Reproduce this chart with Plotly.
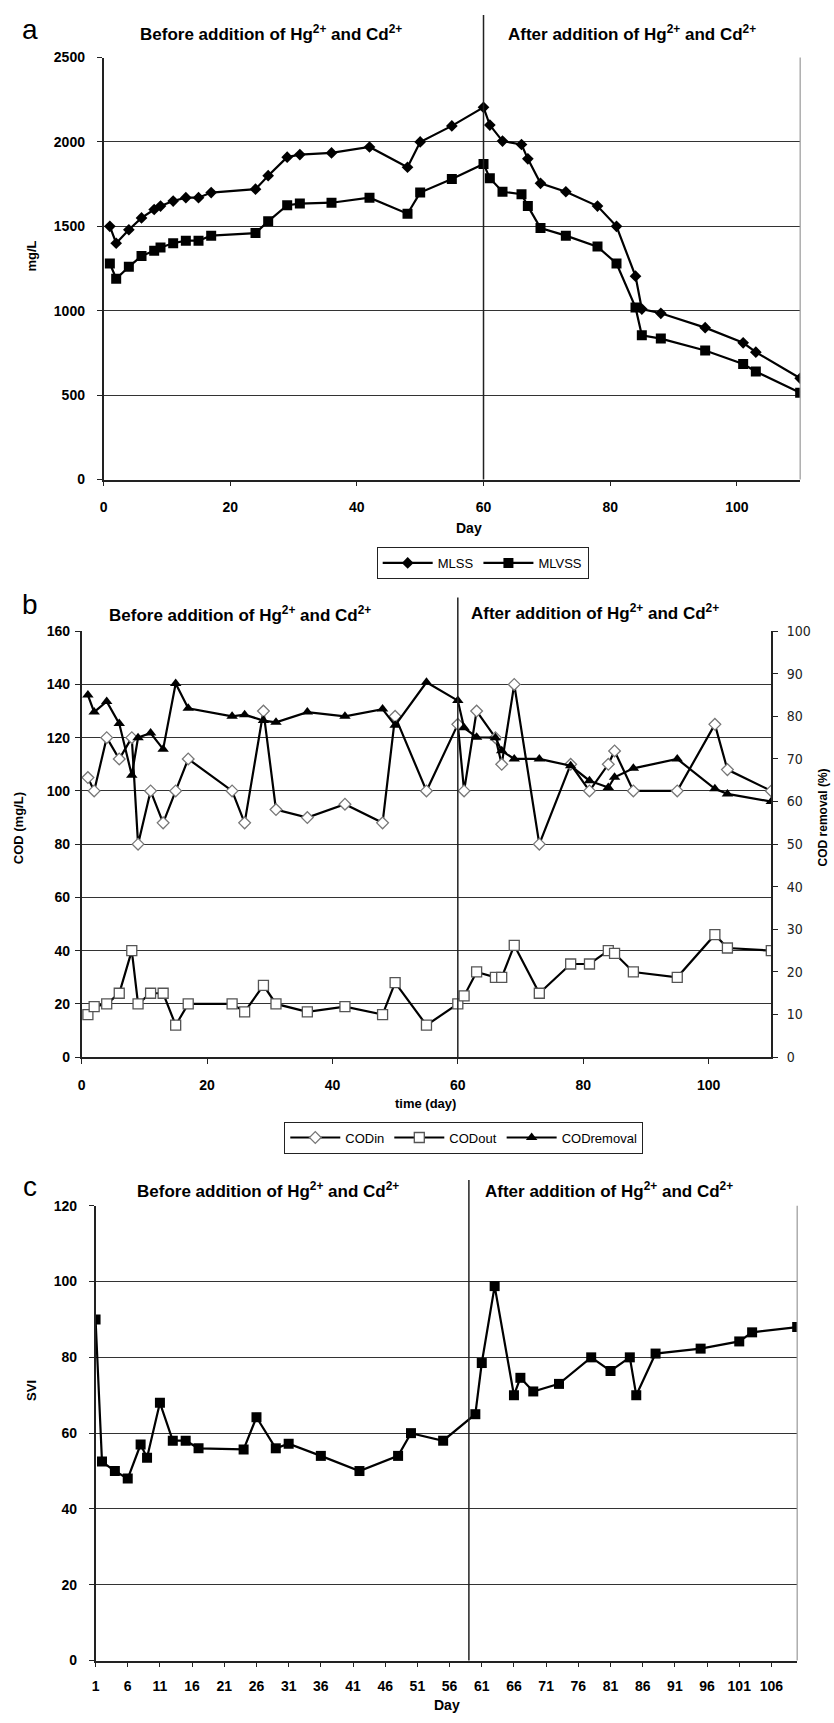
import plotly.graph_objects as go

# ---------------- data ----------------
days = [1, 2, 4, 6, 8, 9, 11, 13, 15, 17, 24, 26, 29, 31, 36, 42, 48, 50, 55, 60,
        61, 63, 66, 67, 69, 73, 78, 81, 84, 85, 88, 95, 101, 103, 110]

mlss = [1500, 1400, 1480, 1550, 1600, 1620, 1650, 1670, 1670, 1700, 1720, 1800, 1910, 1925,
        1935, 1970, 1850, 2000, 2095, 2205, 2100, 2005, 1985, 1900, 1755, 1705, 1620, 1500,
        1205, 1010, 985, 900, 810, 755, 600]
mlvss = [1280, 1190, 1260, 1325, 1355, 1375, 1400, 1415, 1415, 1445, 1460, 1530, 1625, 1635,
         1640, 1670, 1575, 1700, 1780, 1870, 1785, 1705, 1690, 1620, 1490, 1445, 1380, 1280,
         1020, 855, 835, 765, 685, 640, 515]

cod_in = [105, 100, 120, 112, 120, 80, 100, 88, 100, 112, 100, 88, 130, 93, 90, 95, 88, 128,
          100, 125, 100, 130, 120, 110, 140, 80, 110, 100, 110, 115, 100, 100, 125, 108, 100]
cod_out = [16, 19, 20, 24, 40, 20, 24, 24, 12, 20, 20, 17, 27, 20, 17, 19, 16, 28, 12, 20,
           23, 32, 30, 30, 42, 24, 35, 35, 40, 39, 32, 30, 46, 41, 40]
cod_removal = [85, 81, 83.5, 78.3, 66.2, 75, 76.1, 72.3, 87.7, 81.9, 80, 80.4, 79, 78.6, 81,
               80, 81.7, 77.9, 88, 83.7, 77.3, 75.1, 75, 71.9, 70, 70, 68.4, 64.9, 63.3, 65.7,
               67.8, 70, 63, 61.8, 60]

svi = [90, 52.5, 50, 48, 57, 53.5, 68, 58, 58, 56, 55.7, 64.2, 56, 57.2, 54, 50, 54, 60, 58,
       65, 78.5, 98.8, 70, 74.6, 71, 73, 80, 76.4, 80, 70, 81, 82.3, 84.2, 86.6, 88]

svi_ticks = [1, 6, 11, 16, 21, 26, 31, 36, 41, 46, 51, 56, 61, 66, 71, 76, 81, 86, 91, 96, 101, 106]

# ---------------- layout helpers ----------------
W, H = 834, 1723
FONT = "Liberation Sans, Arial, sans-serif"


def px(x):
    return x / W


def py(y):
    return 1 - y / H


fig = go.Figure()

LW = 2.2
# Panel a
fig.add_trace(go.Scatter(x=days, y=mlss, name="MLSS", mode="lines+markers",
                         line=dict(color="black", width=LW),
                         marker=dict(symbol="diamond", size=9, color="black"),
                         xaxis="x", yaxis="y", legend="legend"))
fig.add_trace(go.Scatter(x=days, y=mlvss, name="MLVSS", mode="lines+markers",
                         line=dict(color="black", width=LW),
                         marker=dict(symbol="square", size=10, color="black"),
                         xaxis="x", yaxis="y", legend="legend"))
# Panel b
fig.add_trace(go.Scatter(x=days, y=cod_in, name="CODin", mode="lines+markers",
                         line=dict(color="black", width=LW),
                         marker=dict(symbol="diamond", size=9, color="white",
                                     line=dict(color="#777", width=1.3)),
                         xaxis="x2", yaxis="y2", legend="legend2"))
fig.add_trace(go.Scatter(x=days, y=cod_out, name="CODout", mode="lines+markers",
                         line=dict(color="black", width=LW),
                         marker=dict(symbol="square", size=10, color="white",
                                     line=dict(color="#555", width=1.3)),
                         xaxis="x2", yaxis="y2", legend="legend2"))
fig.add_trace(go.Scatter(x=days, y=cod_removal, name="CODremoval", mode="lines+markers",
                         line=dict(color="black", width=LW),
                         marker=dict(symbol="triangle-up", size=10, color="black"),
                         xaxis="x2", yaxis="y3", legend="legend2"))
# Panel c
fig.add_trace(go.Scatter(x=days, y=svi, name="SVI", mode="lines+markers",
                         line=dict(color="black", width=LW),
                         marker=dict(symbol="square", size=10, color="black"),
                         xaxis="x3", yaxis="y4", showlegend=False))

tickfont_b = dict(family=FONT, size=14, color="black", weight="bold")
axis_common = dict(showline=True, linecolor="#222", linewidth=1.5, ticks="outside",
                   ticklen=5, tickcolor="#222", zeroline=False, tickfont=tickfont_b)

fig.update_layout(
    width=W, height=H, margin=dict(l=0, r=0, t=0, b=0),
    paper_bgcolor="white", plot_bgcolor="white",
    font=dict(family=FONT, color="black"),
    xaxis=dict(domain=[px(100), px(800)], anchor="y", range=[0, 110], dtick=20,
               showgrid=False, ticklabelstandoff=9, **axis_common),
    yaxis=dict(domain=[py(476), py(50)], anchor="x", range=[0, 2500], dtick=500,
               showgrid=True, gridcolor="#333", gridwidth=1, ticklabelstandoff=9,
               **axis_common),
    xaxis2=dict(domain=[px(78), px(771)], anchor="y2", range=[0, 110], dtick=20,
                showgrid=False, ticklabelstandoff=9, **axis_common),
    yaxis2=dict(domain=[py(1059), py(629)], anchor="x2", range=[0, 160], dtick=20,
                showgrid=True, gridcolor="#333", gridwidth=1, ticklabelstandoff=2,
                **axis_common),
    yaxis3=dict(overlaying="y2", side="right", anchor="x2", range=[0, 100], dtick=10,
                showgrid=False, showline=True, linecolor="#222", linewidth=1.5,
                ticks="outside", ticklen=5, tickcolor="#222", zeroline=False,
                ticklabelstandoff=6,
                tickfont=dict(family="DejaVu Sans Condensed, Liberation Sans Narrow, sans-serif",
                              size=14, color="#222")),
    xaxis3=dict(domain=[px(92), px(797)], anchor="y4", range=[1, 110], tickvals=svi_ticks,
                showgrid=False, ticklabelstandoff=7, **axis_common),
    yaxis4=dict(domain=[py(1668), py(1209)], anchor="x3", range=[0, 120], dtick=20,
                showgrid=True, gridcolor="#333", gridwidth=1, ticklabelstandoff=9,
                **axis_common),
    legend=dict(orientation="h", x=px(481), xanchor="center", y=py(544), yanchor="top",
                bordercolor="#222", borderwidth=1, font=dict(family=FONT, size=13),
                itemwidth=50, tracegroupgap=0),
    legend2=dict(orientation="h", x=px(462), xanchor="center", y=py(1124), yanchor="top",
                 bordercolor="#222", borderwidth=1, font=dict(family=FONT, size=13),
                 itemwidth=50, tracegroupgap=0),
    showlegend=True,
)

hdr_before = "Before addition of Hg<sup>2+</sup> and Cd<sup>2+</sup>"
hdr_after = "After addition of Hg<sup>2+</sup> and Cd<sup>2+</sup>"
hfont = dict(family=FONT, size=17, color="black", weight="bold")
lblfont = dict(family=FONT, size=28, color="black")
tfont = dict(family=FONT, size=13, color="black", weight="bold")

annotations = [
    # panel labels
    dict(text="a", x=px(26), y=py(22), font=lblfont),
    dict(text="b", x=px(26), y=py(602), font=lblfont),
    dict(text="c", x=px(26), y=py(1190), font=lblfont),
    # headers
    dict(text=hdr_before, x=px(268), y=py(25), font=hfont),
    dict(text=hdr_after, x=px(631), y=py(25), font=hfont),
    dict(text=hdr_before, x=px(237), y=py(612), font=hfont),
    dict(text=hdr_after, x=px(594), y=py(610), font=hfont),
    dict(text=hdr_before, x=px(265), y=py(1193), font=hfont),
    dict(text=hdr_after, x=px(608), y=py(1193), font=hfont),
    # axis titles
    dict(text="mg/L", x=px(28), y=py(250), textangle=-90, font=tfont),
    dict(text="Day", x=px(467), y=py(525), font=dict(family=FONT, size=14, weight="bold")),
    dict(text="COD (mg/L)", x=px(14), y=py(828), textangle=-90, font=tfont),
    dict(text="COD removal (%)", x=px(823), y=py(817), textangle=-90,
         font=dict(family=FONT, size=12, color="black", weight="bold")),
    dict(text="time (day)", x=px(424), y=py(1106), font=tfont),
    dict(text="SVI", x=px(27), y=py(1395), textangle=-90, font=tfont),
    dict(text="Day", x=px(445), y=py(1713), font=dict(family=FONT, size=14, weight="bold")),
]
for a in annotations:
    a.update(xref="paper", yref="paper", showarrow=False, xanchor="center", yanchor="middle")
fig.update_layout(annotations=annotations)

# vertical separators and right borders
shapes = [
    dict(type="line", xref="x", yref="paper", x0=60, x1=60, y0=py(476), y1=py(7),
         line=dict(color="#222", width=1.5)),
    dict(type="line", xref="x2", yref="paper", x0=60, x1=60, y0=py(1059), y1=py(595),
         line=dict(color="#222", width=1.5)),
    dict(type="line", xref="x3", yref="paper", x0=59, x1=59, y0=py(1668), y1=py(1183),
         line=dict(color="#222", width=1.5)),
    dict(type="line", xref="paper", yref="paper", x0=px(800), x1=px(800), y0=py(476), y1=py(50),
         line=dict(color="#999", width=1.2)),
    dict(type="line", xref="paper", yref="paper", x0=px(797), x1=px(797), y0=py(1668), y1=py(1209),
         line=dict(color="#999", width=1.2)),
]
fig.update_layout(shapes=shapes)

# remove the browser's default page margin so the figure fills the window exactly
post = ("document.body.style.margin='0';document.body.style.padding='0';"
        "document.body.style.overflow='hidden';"
        "document.documentElement.style.overflow='hidden';")
fig.write_html("out.html", post_script=post, config={"displayModeBar": False})
